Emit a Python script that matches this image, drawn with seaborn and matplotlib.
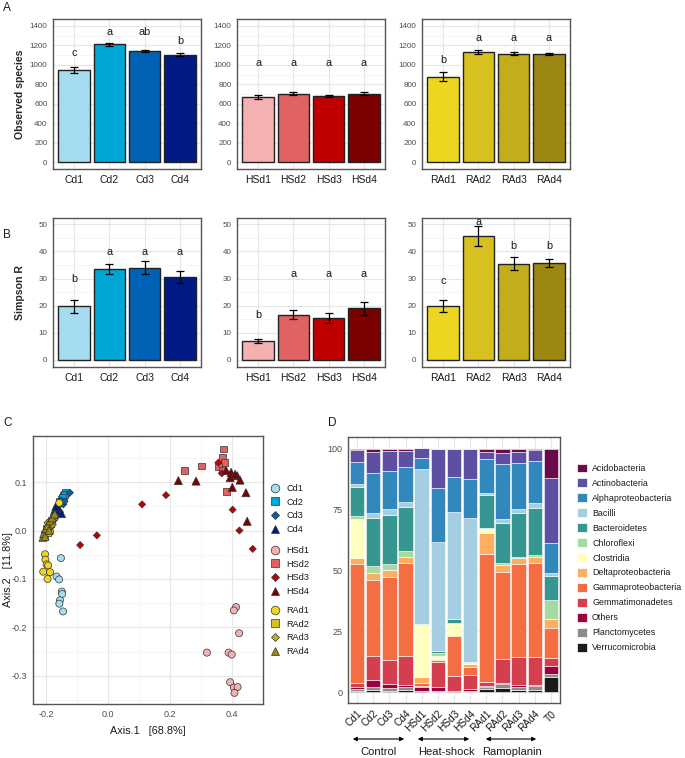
import numpy as np
import pandas as pd
import matplotlib
matplotlib.use("Agg")
import matplotlib.pyplot as plt
from matplotlib.lines import Line2D
from matplotlib.patches import Patch
from matplotlib.ticker import MultipleLocator
import seaborn as sns

# ------------------------------------------------------------------ data
cd_labels = ["Cd1", "Cd2", "Cd3", "Cd4"]
hs_labels = ["HSd1", "HSd2", "HSd3", "HSd4"]
ra_labels = ["RAd1", "RAd2", "RAd3", "RAd4"]

cd_colors = ["#a6dcef", "#00a6d6", "#0062b4", "#001b85"]
hs_colors = ["#f5b1b1", "#e06262", "#c00000", "#7b0000"]
ra_colors = ["#edd620", "#d8c021", "#c4ad1b", "#9c8712"]

# Panel A: observed species
obs_cd = [950, 1210, 1140, 1105]
obs_cd_err = [30, 15, 12, 15]
obs_cd_letters = ["c", "a", "ab", "b"]
obs_cd_letter_y = [1122, 1337, 1337, 1245]

obs_hs = [672, 702, 677, 702]
obs_hs_err = [20, 15, 12, 15]
obs_hs_letters = ["a", "a", "a", "a"]
obs_hs_letter_y = [1020, 1020, 1020, 1020]

obs_ra = [877, 1130, 1115, 1108]
obs_ra_err = [45, 20, 18, 12]
obs_ra_letters = ["b", "a", "a", "a"]
obs_ra_letter_y = [1051, 1275, 1275, 1275]

# Panel B: Simpson R
sim_cd = [19.8, 33.5, 34.0, 30.7]
sim_cd_err = [2.4, 1.7, 2.4, 2.2]
sim_cd_letters = ["b", "a", "a", "a"]
sim_cd_letter_y = [29.8, 39.7, 39.7, 39.7]

sim_hs = [7.0, 16.7, 15.4, 19.0]
sim_hs_err = [0.8, 1.7, 1.8, 2.4]
sim_hs_letters = ["b", "a", "a", "a"]
sim_hs_letter_y = [16.5, 31.6, 31.6, 31.6]

sim_ra = [20.0, 45.7, 35.5, 35.7]
sim_ra_err = [2.2, 3.8, 2.4, 1.4]
sim_ra_letters = ["c", "a", "b", "b"]
sim_ra_letter_y = [29.0, 50.7, 41.9, 41.9]

# Panel C: PCoA coordinates
pcoa_group = (["Cd1"] * 8 + ["Cd2"] * 6 + ["Cd3"] * 7 + ["Cd4"] * 6
              + ["HSd1"] * 10 + ["HSd2"] * 8 + ["HSd3"] * 9 + ["HSd4"] * 11
              + ["RAd1"] * 9 + ["RAd2"] * 8 + ["RAd3"] * 8 + ["RAd4"] * 9)
pcoa_x = [-0.152, -0.166, -0.158, -0.149, -0.148, -0.155, -0.157, -0.145,
          -0.136, -0.144, -0.150, -0.157, -0.140, -0.147,
          -0.123, -0.144, -0.150, -0.155, -0.187, -0.140, -0.160,
          -0.171, -0.165, -0.173, -0.160, -0.150, -0.168,
          0.413, 0.406, 0.423, 0.319, 0.389, 0.399, 0.394, 0.406, 0.418, 0.408,
          0.372, 0.369, 0.375, 0.356, 0.248, 0.302, 0.383, 0.370,
          0.356, 0.367, 0.402, 0.424, 0.467, 0.110, 0.187, -0.036, -0.090,
          0.227, 0.284, 0.381, 0.397, 0.394, 0.417, 0.426, 0.401, 0.445, 0.449, 0.410,
          -0.203, -0.202, -0.198, -0.193, -0.209, -0.187, -0.195, -0.187, -0.157,
          -0.205, -0.198, -0.190, -0.183, -0.175, -0.195, -0.186, -0.200,
          -0.200, -0.192, -0.180, -0.172, -0.188, -0.178, -0.195, -0.170,
          -0.210, -0.207, -0.200, -0.195, -0.187, -0.180, -0.172, -0.203, -0.190]
pcoa_y = [-0.057, -0.095, -0.101, -0.126, -0.131, -0.144, -0.151, -0.167,
          0.079, 0.072, 0.065, 0.060, 0.075, 0.068,
          0.078, 0.054, 0.062, 0.038, 0.000, 0.060, 0.050,
          0.043, 0.038, 0.033, 0.047, 0.035, 0.050,
          -0.158, -0.165, -0.212, -0.252, -0.252, -0.256, -0.313, -0.324, -0.323, -0.335,
          0.168, 0.150, 0.141, 0.132, 0.124, 0.133, 0.081, 0.125,
          0.140, 0.118, 0.043, 0.000, -0.038, 0.054, 0.073, -0.010, -0.030,
          0.103, 0.102, 0.124, 0.120, 0.109, 0.113, 0.104, 0.089, 0.078, 0.019, 0.116,
          -0.049, -0.060, -0.070, -0.072, -0.085, -0.086, -0.100, -0.003, 0.057,
          -0.008, 0.002, 0.012, 0.020, 0.028, -0.004, 0.015, 0.005,
          0.000, 0.008, 0.018, 0.024, 0.006, 0.012, 0.016, 0.030,
          -0.014, -0.006, 0.004, 0.010, 0.020, 0.026, 0.034, -0.012, 0.000]

# Panel D: relative abundance (%)
samples = ["Cd1", "Cd2", "Cd3", "Cd4", "HSd1", "HSd2", "HSd3", "HSd4",
           "RAd1", "RAd2", "RAd3", "RAd4", "T0"]
taxa = ["Acidobacteria", "Actinobacteria", "Alphaproteobacteria", "Bacilli",
        "Bacteroidetes", "Chloroflexi", "Clostridia", "Deltaproteobacteria",
        "Gammaproteobacteria", "Gemmatimonadetes", "Others", "Planctomycetes",
        "Verrucomicrobia"]
taxa_colors = ["#6b0a4b", "#5e4fa2", "#3288bd", "#a6cee3", "#35978f", "#a6dba0",
               "#ffffbf", "#fdae61", "#f46d43", "#d53e4f", "#9e0142", "#8c8c8c",
               "#1a1a1a"]
ab_acido = [0.3, 1.2, 0.9, 0.7, 0.0, 0.0, 0.0, 0.0, 1.4, 1.6, 1.2, 0.6, 12.1]
ab_actino = [5.0, 8.6, 8.1, 6.9, 4.1, 16.2, 11.7, 12.4, 2.9, 4.6, 4.5, 4.4, 26.8]
ab_alpha = [9.2, 16.5, 15.7, 14.3, 4.6, 22.1, 14.2, 15.9, 14.0, 22.8, 19.0, 17.4, 12.0]
ab_bacilli = [1.1, 2.0, 2.5, 2.0, 63.5, 44.7, 44.2, 59.2, 0.5, 1.4, 1.8, 1.7, 1.4]
ab_bacteroid = [11.9, 19.8, 20.3, 18.2, 0.3, 0.9, 1.4, 0.3, 13.6, 16.4, 17.9, 19.6, 9.9]
ab_chloro = [1.4, 3.1, 2.3, 2.5, 0.4, 1.2, 0.3, 0.3, 0.0, 1.0, 0.6, 0.9, 7.9]
ab_clostr = [15.9, 0.0, 0.0, 0.0, 21.4, 1.4, 4.8, 0.3, 2.1, 0.0, 0.0, 0.0, 0.0]
ab_delta = [2.4, 2.7, 2.8, 2.2, 2.2, 0.4, 0.4, 1.2, 8.8, 2.7, 2.4, 2.5, 3.7]
ab_gamma = [49.0, 31.3, 34.2, 38.4, 1.5, 0.6, 16.4, 3.4, 52.7, 36.1, 38.1, 38.6, 12.1]
ab_gemmat = [1.6, 9.9, 9.9, 11.7, 0.3, 10.3, 6.1, 5.8, 1.4, 9.6, 11.6, 11.4, 3.4]
ab_others = [1.1, 3.0, 1.7, 1.1, 1.5, 1.7, 0.3, 0.9, 0.6, 0.5, 0.7, 0.4, 3.4]
ab_plancto = [0.5, 1.1, 1.1, 1.2, 0.2, 0.3, 0.1, 0.2, 0.7, 1.8, 1.2, 1.7, 1.0]
ab_verruco = [0.6, 0.8, 0.5, 0.8, 0.3, 0.2, 0.1, 0.1, 1.3, 1.5, 1.0, 0.8, 6.3]

# ------------------------------------------------------------------ style
sns.set_theme(style="white")
plt.rcParams["font.family"] = ["Liberation Sans", "DejaVu Sans"]

W, H = 685, 758
fig = plt.figure(figsize=(W / 100, H / 100), dpi=100)


def add_ax(l, t, r, b):
    return fig.add_axes([l / W, 1 - b / H, (r - l) / W, (b - t) / H])


GRID_MAJ = "#e6e6e6"
GRID_MIN = "#f3f3f3"
TICK_C = "#4d4d4d"


def style_axes(ax):
    for s in ax.spines.values():
        s.set_color("#555555")
        s.set_linewidth(1.0)
        s.set_visible(True)
    ax.set_axisbelow(True)
    ax.grid(True, which="major", color=GRID_MAJ, lw=0.8)
    ax.grid(True, which="minor", color=GRID_MIN, lw=0.5)
    ax.tick_params(which="major", length=2.5, width=0.6, color="#555555",
                   labelcolor=TICK_C, pad=1.5)
    ax.tick_params(which="minor", length=0)


def bar_panel(ax, labels, vals, errs, colors, letters, letter_y,
              ylim, major, minor, show_ylabel=None):
    df = pd.DataFrame({"sample": labels, "value": vals})
    sns.barplot(data=df, x="sample", y="value", hue="sample", order=labels,
                hue_order=labels, palette=dict(zip(labels, colors)),
                saturation=1, legend=False, width=0.9, edgecolor="#222222",
                linewidth=1.0, errorbar=None, ax=ax)
    ax.errorbar(np.arange(len(labels)), vals, yerr=errs, fmt="none",
                ecolor="black", elinewidth=0.9, capsize=3, capthick=0.9,
                zorder=5)
    for i, (t, y) in enumerate(zip(letters, letter_y)):
        ax.text(i, y, t, ha="center", va="center", fontsize=7.8, color="#1a1a1a")
    ax.set_xlim(-0.6, len(labels) - 0.4)
    ax.set_ylim(*ylim)
    ax.yaxis.set_major_locator(MultipleLocator(major))
    ax.yaxis.set_minor_locator(MultipleLocator(minor))
    style_axes(ax)
    ax.tick_params(axis="y", labelsize=5.8)
    ax.tick_params(axis="x", labelsize=7.5, labelcolor="#1a1a1a")
    ax.set_xlabel("")
    ax.set_ylabel("")
    if show_ylabel:
        ax.set_ylabel(show_ylabel, fontsize=7.6, fontweight="bold")
        ax.yaxis.set_label_coords((25 - 53) / 148, 0.5)


xcols = [(53, 201), (237, 385), (422, 570)]
groups_lab = [cd_labels, hs_labels, ra_labels]
groups_col = [cd_colors, hs_colors, ra_colors]

obs_vals = [obs_cd, obs_hs, obs_ra]
obs_errs = [obs_cd_err, obs_hs_err, obs_ra_err]
obs_lets = [obs_cd_letters, obs_hs_letters, obs_ra_letters]
obs_ly = [obs_cd_letter_y, obs_hs_letter_y, obs_ra_letter_y]
for k, (l, r) in enumerate(xcols):
    ax = add_ax(l, 19, r, 169)
    bar_panel(ax, groups_lab[k], obs_vals[k], obs_errs[k], groups_col[k],
              obs_lets[k], obs_ly[k], (-70, 1470), 200, 100,
              "Observed species" if k == 0 else None)

sim_vals = [sim_cd, sim_hs, sim_ra]
sim_errs = [sim_cd_err, sim_hs_err, sim_ra_err]
sim_lets = [sim_cd_letters, sim_hs_letters, sim_ra_letters]
sim_ly = [sim_cd_letter_y, sim_hs_letter_y, sim_ra_letter_y]
for k, (l, r) in enumerate(xcols):
    ax = add_ax(l, 218, r, 367)
    bar_panel(ax, groups_lab[k], sim_vals[k], sim_errs[k], groups_col[k],
              sim_lets[k], sim_ly[k], (-2.6, 52.3), 10, 5,
              "Simpson R" if k == 0 else None)

# ------------------------------------------------------------------ panel C
axc = add_ax(33, 436, 263, 704)
pc = pd.DataFrame({"group": pcoa_group, "x": pcoa_x, "y": pcoa_y})
grp_order = cd_labels + hs_labels + ra_labels
grp_colors = dict(zip(grp_order, cd_colors + hs_colors + ra_colors))
grp_markers = dict(zip(grp_order, ["o", "s", "D", "^"] * 3))
grp_sizes = dict(zip(grp_order, [26, 24, 13, 34] * 3))
sns.scatterplot(data=pc, x="x", y="y", hue="group", style="group", size="group",
                hue_order=grp_order, style_order=grp_order, size_order=grp_order,
                palette=grp_colors, markers=grp_markers, sizes=grp_sizes,
                edgecolor="#333333", linewidth=0.5, legend=False, ax=axc,
                zorder=3)
axc.set_xlim(-0.242, 0.5)
axc.set_ylim(-0.358, 0.195)
axc.xaxis.set_major_locator(MultipleLocator(0.2))
axc.xaxis.set_minor_locator(MultipleLocator(0.1))
axc.yaxis.set_major_locator(MultipleLocator(0.1))
axc.yaxis.set_minor_locator(MultipleLocator(0.05))
style_axes(axc)
axc.tick_params(labelsize=6.5)
axc.xaxis.set_major_formatter(matplotlib.ticker.FormatStrFormatter("%.1f"))
axc.yaxis.set_major_formatter(matplotlib.ticker.FormatStrFormatter("%.1f"))
axc.set_xlabel("Axis.1   [68.8%]", fontsize=7.8, color="#1a1a1a", labelpad=5)
axc.set_ylabel("Axis.2   [11.8%]", fontsize=7.8, color="#1a1a1a")
axc.yaxis.set_label_coords((13 - 33) / 230, 0.5)

# legends for C (three blocks)
leg_tops = [484, 546, 606]
for j, labs in enumerate(groups_lab):
    handles = [Line2D([], [], ls="none", marker=grp_markers[g],
                      markerfacecolor=grp_colors[g], markeredgecolor="#333333",
                      markeredgewidth=0.5,
                      markersize=(6.2 if grp_markers[g] != "D" else 4.2))
               for g in labs]
    lg = fig.legend(handles, labs, loc="upper left",
                    bbox_to_anchor=(270 / W, 1 - leg_tops[j] / H),
                    frameon=False, fontsize=6.6, handlelength=1.0,
                    handletextpad=0.8, labelspacing=0.5, borderpad=0,
                    borderaxespad=0)
    for t in lg.get_texts():
        t.set_color("#1a1a1a")

# ------------------------------------------------------------------ panel D
axd = add_ax(348, 437, 560, 703)
ab_lists = [ab_acido, ab_actino, ab_alpha, ab_bacilli, ab_bacteroid, ab_chloro,
            ab_clostr, ab_delta, ab_gamma, ab_gemmat, ab_others, ab_plancto,
            ab_verruco]
xpos = np.arange(len(samples))
bottom = np.zeros(len(samples))
for name, vals, col in reversed(list(zip(taxa, ab_lists, taxa_colors))):
    vals = np.array(vals)
    axd.bar(xpos, vals, bottom=bottom, width=0.9, color=col,
            edgecolor="white", linewidth=0.4, zorder=3, label=name)
    bottom = bottom + vals
axd.set_xlim(-0.56, len(samples) - 0.44)
axd.set_ylim(-4.5, 104.9)
axd.yaxis.set_major_locator(MultipleLocator(25))
axd.yaxis.set_minor_locator(MultipleLocator(12.5))
axd.set_xticks(xpos)
axd.set_xticklabels(samples, rotation=45, ha="right", rotation_mode="anchor")
style_axes(axd)
axd.tick_params(axis="y", labelsize=6.5)
axd.tick_params(axis="x", labelsize=7.3, labelcolor="#1a1a1a")

handles_d = [Patch(facecolor=c, edgecolor="white", linewidth=0.5) for c in taxa_colors]
lgd = fig.legend(handles_d, taxa, loc="upper left",
                 bbox_to_anchor=(577 / W, 1 - 463.5 / H), frameon=False,
                 fontsize=6.4, handlelength=1.15, handleheight=1.15,
                 handletextpad=0.55, labelspacing=0.62, borderpad=0,
                 borderaxespad=0)
for t in lgd.get_texts():
    t.set_color("#1a1a1a")

# group arrows under D
arrow_spans = [(350, 407, "Control", 379), (415, 472, "Heat-shock", 446),
               (483, 539, "Ramoplanin", 512)]
for x0, x1, lab, xc in arrow_spans:
    fig.add_artist(matplotlib.patches.FancyArrowPatch(
        (x0 / W, 1 - 739 / H), (x1 / W, 1 - 739 / H),
        transform=fig.transFigure, arrowstyle="<|-|>", mutation_scale=6,
        color="black", lw=0.8))
    fig.text(xc / W, 1 - 752 / H, lab, ha="center", va="center", fontsize=8,
             color="#1a1a1a")

# panel letters
for lab, x, y in [("A", 3, 8), ("B", 3, 235), ("C", 3, 423), ("D", 328, 423)]:
    fig.text(x / W, 1 - y / H, lab, ha="left", va="center", fontsize=8.5,
             color="#1a1a1a")

fig.savefig("out.png", dpi=100)
